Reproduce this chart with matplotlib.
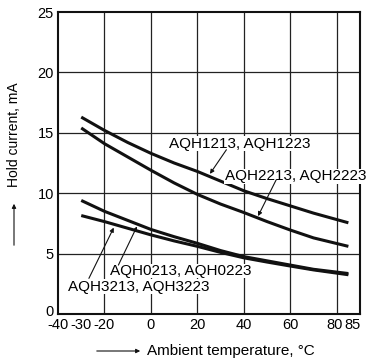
import numpy as np
import matplotlib
matplotlib.use('Agg')
import matplotlib.pyplot as plt
from matplotlib.patches import FancyArrowPatch
from matplotlib.transforms import ScaledTranslation

# values
temps = [-30, -20, -10, 0, 10, 20, 30, 40, 50, 60, 70, 85]
aqh1213 = [16.3, 15.2, 14.2, 13.3, 12.5, 11.8, 11.0, 10.2, 9.55, 8.95, 8.35, 7.55]
aqh2213 = [15.4, 14.1, 13.0, 11.9, 10.85, 9.9, 9.1, 8.4, 7.65, 6.95, 6.3, 5.6]
aqh0213 = [9.4, 8.5, 7.75, 7.0, 6.4, 5.85, 5.25, 4.75, 4.4, 4.05, 3.7, 3.35]
aqh3213 = [8.15, 7.65, 7.1, 6.55, 6.05, 5.6, 5.1, 4.65, 4.3, 3.97, 3.65, 3.25]

xticks = [-40, -30, -20, 0, 20, 40, 60, 80, 85]
xtick_labels = ['-40', '-30', '-20', '0', '20', '40', '60', '80', '85']
yticks = [0, 5, 10, 15, 20, 25]

plt.rcParams['font.family'] = ['Liberation Sans', 'DejaVu Sans']

fig = plt.figure(figsize=(3.72, 3.61), dpi=100)
ax = fig.add_axes([58/372, 1-314/361, (360-58)/372, (314-12)/361])

for x in [-20, 0, 20, 40, 60, 80]:
    ax.axvline(x, color='#222222', lw=0.9, zorder=1)
for y in [5, 10, 15, 20]:
    ax.axhline(y, color='#222222', lw=0.9, zorder=1)

for series in [aqh1213, aqh2213, aqh0213, aqh3213]:
    ax.plot(temps, series, color='#111111', lw=2.2, zorder=3, solid_capstyle='butt')

ax.set_xlim(-40, 90)
ax.set_ylim(0, 25)
ax.set_xticks(xticks)
ax.set_xticklabels(xtick_labels)
ax.set_yticks(yticks)
ax.tick_params(length=0, labelsize=10.5, pad=3)
# squeeze the crowded 80 / 85 labels apart, lift the y "0" off the "-40"
labs = ax.get_xticklabels()
labs[7].set_transform(labs[7].get_transform() + ScaledTranslation(-2/100, 0, fig.dpi_scale_trans))
labs[8].set_transform(labs[8].get_transform() + ScaledTranslation(4/100, 0, fig.dpi_scale_trans))
ylabs = ax.get_yticklabels()
ylabs[0].set_transform(ylabs[0].get_transform() + ScaledTranslation(0, 4/100, fig.dpi_scale_trans))
for sp in ax.spines.values():
    sp.set_linewidth(1.5)
    sp.set_color('#111111')

box = dict(facecolor='white', edgecolor='none', pad=0.3)
arrow = dict(arrowstyle='-|>', color='#111111', lw=0.8, mutation_scale=6, shrinkA=0, shrinkB=0)

labels = [('AQH1213, AQH1223', (38.2, 14.1), (32.5, 13.6), (25.4, 11.6)),
          ('AQH2213, AQH2223', (62.2, 11.4), (53.9, 11.1), (46.1, 8.1)),
          ('AQH0213, AQH0223', (13.0, 3.56), (-14.0, 4.05), (-6.0, 7.25)),
          ('AQH3213, AQH3223', (-5.4, 2.24), (-26.7, 2.95), (-16.0, 7.15))]
for txt, pos, start, end in labels:
    ax.text(pos[0], pos[1], txt, ha='center', va='center', fontsize=11, bbox=box, zorder=5)
    ax.annotate('', xy=end, xytext=start, arrowprops=arrow, zorder=6)

# axis labels with arrow lines
fig.text(14/372, 1-135/361, 'Hold current, mA', rotation=90, ha='center', va='center', fontsize=10)
fig.text(147/372, 1-351/361, 'Ambient temperature, °C', ha='left', va='center', fontsize=11)
fig.add_artist(FancyArrowPatch((14/372, 1-248/361), (14/372, 1-201/361),
               transform=fig.transFigure, arrowstyle='-|>', mutation_scale=6, lw=0.8, color='#111111'))
fig.add_artist(FancyArrowPatch((94/372, 1-351/361), (143/372, 1-351/361),
               transform=fig.transFigure, arrowstyle='-|>', mutation_scale=6, lw=0.8, color='#111111'))

fig.savefig('out.png', dpi=100)
